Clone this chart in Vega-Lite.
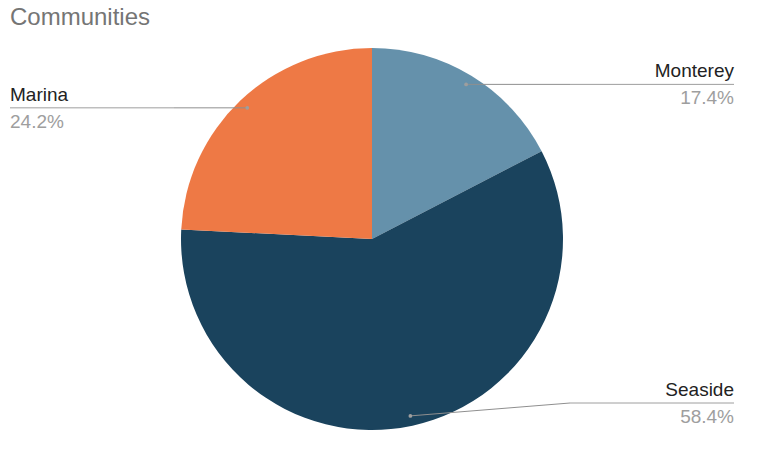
{
  "$schema": "https://vega.github.io/schema/vega-lite/v6.json",
  "width": 776,
  "height": 433,
  "autosize": "none",
  "padding": {"top": 35, "left": 0, "right": 0, "bottom": 0},
  "background": "white",
  "config": {"view": {"stroke": null}, "font": "Liberation Sans"},
  "title": {
    "text": "Communities",
    "anchor": "start",
    "frame": "group",
    "orient": "top",
    "offset": 9,
    "baseline": "alphabetic",
    "dx": 10,
    "dy": 23,
    "fontSize": 24,
    "fontWeight": "normal",
    "color": "#757575",
    "font": "Liberation Sans"
  },
  "data": {
    "values": [
      {"name": "Monterey", "pct": 17.4, "rank": 1},
      {"name": "Seaside", "pct": 58.4, "rank": 2},
      {"name": "Marina", "pct": 24.2, "rank": 3}
    ]
  },
  "transform": [
    {"window": [{"op": "sum", "field": "pct", "as": "cum"}], "sort": [{"field": "rank"}], "frame": [null, 0]},
    {"joinaggregate": [{"op": "sum", "field": "pct", "as": "total"}]},
    {"calculate": "2*PI*(datum.cum - datum.pct/2)/datum.total", "as": "mid"},
    {"calculate": "181*sin(datum.mid)", "as": "dx"},
    {"calculate": "181*cos(datum.mid)", "as": "dy"},
    {"calculate": "datum.dx >= 0 ? 1 : -1", "as": "side"},
    {"calculate": "clamp(datum.dy, -164, 164)", "as": "ly"},
    {"calculate": "datum.side * 198", "as": "ex"},
    {"calculate": "datum.side > 0 ? 362 : -362", "as": "endx"},
    {"calculate": "format(datum.pct, '.1f') + '%'", "as": "plabel"}
  ],
  "layer": [
    {
      "mark": {"type": "arc", "outerRadius": 191},
      "encoding": {
        "x": {"datum": 0, "type": "quantitative", "scale": {"domain": [-372, 404], "nice": false, "zero": false}, "axis": null},
        "y": {"datum": 0, "type": "quantitative", "scale": {"domain": [-229, 204], "nice": false, "zero": false}, "axis": null},
        "theta": {"field": "pct", "type": "quantitative", "stack": true},
        "order": {"field": "rank", "type": "quantitative"},
        "color": {
          "field": "name",
          "type": "nominal",
          "scale": {"domain": ["Monterey", "Seaside", "Marina"], "range": ["#6591AB", "#1A435D", "#EE7945"]},
          "legend": null
        }
      }
    },
    {
      "mark": {"type": "rule", "color": "#8f8f8f", "strokeWidth": 1},
      "encoding": {
        "x": {"field": "dx", "type": "quantitative", "scale": {"domain": [-372, 404], "nice": false, "zero": false}, "axis": null},
        "y": {"field": "dy", "type": "quantitative", "scale": {"domain": [-229, 204], "nice": false, "zero": false}, "axis": null},
        "x2": {"field": "ex"},
        "y2": {"field": "ly"}
      }
    },
    {
      "mark": {"type": "rule", "color": "#9e9e9e", "strokeWidth": 1},
      "encoding": {
        "x": {"field": "ex", "type": "quantitative", "axis": null},
        "y": {"field": "ly", "type": "quantitative", "axis": null},
        "x2": {"field": "endx"},
        "y2": {"field": "ly"}
      }
    },
    {
      "mark": {"type": "point", "filled": true, "size": 14, "color": "#9e9e9e", "opacity": 1},
      "encoding": {
        "x": {"field": "dx", "type": "quantitative", "axis": null},
        "y": {"field": "dy", "type": "quantitative", "axis": null}
      }
    },
    {
      "mark": {
        "type": "text",
        "fontSize": 19,
        "color": "#222222",
        "baseline": "alphabetic",
        "dy": -7,
        "align": {"expr": "datum.side > 0 ? 'right' : 'left'"}
      },
      "encoding": {
        "x": {"field": "endx", "type": "quantitative", "axis": null},
        "y": {"field": "ly", "type": "quantitative", "axis": null},
        "text": {"field": "name"}
      }
    },
    {
      "mark": {
        "type": "text",
        "fontSize": 19,
        "color": "#9e9e9e",
        "baseline": "alphabetic",
        "dy": 20,
        "align": {"expr": "datum.side > 0 ? 'right' : 'left'"}
      },
      "encoding": {
        "x": {"field": "endx", "type": "quantitative", "axis": null},
        "y": {"field": "ly", "type": "quantitative", "axis": null},
        "text": {"field": "plabel"}
      }
    }
  ]
}
